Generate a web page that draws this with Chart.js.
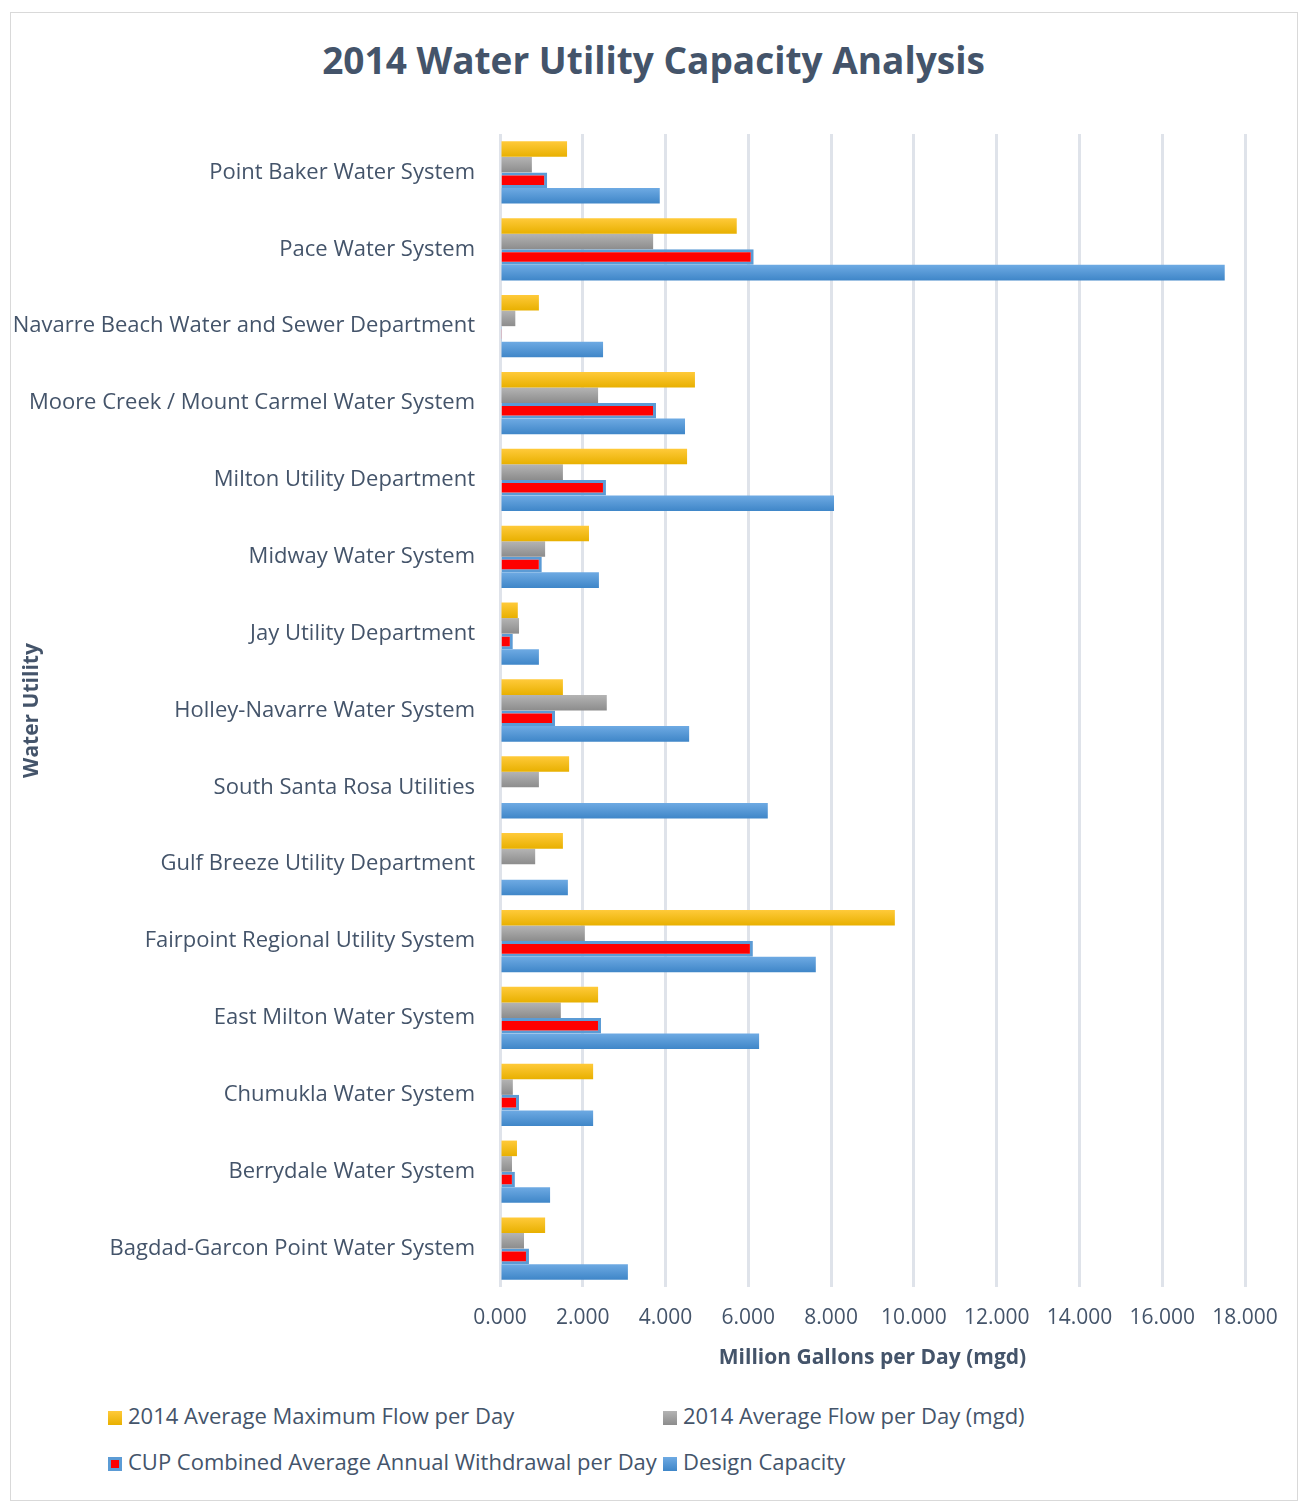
<!DOCTYPE html>
<html>
<head>
<meta charset="utf-8">
<script src="https://cdn.jsdelivr.net/npm/chart.js@4.4.0/dist/chart.umd.min.js"></script>
<style>
  body { margin: 0; background: #fff; }
  #wrap { position: relative; width: 1307px; height: 1508px; font-family: "Open Sans", sans-serif; }
  #frame { position: absolute; left: 10px; top: 12px; width: 1286px; height: 1487px; border: 1px solid #d9d9d9; }
  #title { position: absolute; left: 0; top: 38px; width: 1307px; text-align: center; font-size: 37px; font-weight: bold; color: #44546a; line-height: 44px; }
  #chart-box { position: absolute; left: 0; top: 0; width: 1307px; height: 1390px; }
  #legend { position: absolute; left: 0; top: 1398px; width: 1307px; }
  .item { position: absolute; font-size: 22px; color: #44546a; white-space: nowrap; line-height: 26px; }
  .box { display: inline-block; width: 14px; height: 14px; margin-right: 6px; vertical-align: -1px; box-sizing: border-box; }
</style>
</head>
<body>
<div id="wrap">
  <div id="frame"></div>
  <div id="title">2014 Water Utility Capacity Analysis</div>
  <div id="chart-box"><canvas id="water-chart"></canvas></div>
  <div id="legend"></div>
</div>
<script>
const utilities = [
  "Point Baker Water System",
  "Pace Water System",
  "Navarre Beach Water and Sewer Department",
  "Moore Creek / Mount Carmel Water System",
  "Milton Utility Department",
  "Midway Water System",
  "Jay Utility Department",
  "Holley-Navarre Water System",
  "South Santa Rosa Utilities",
  "Gulf Breeze Utility Department",
  "Fairpoint Regional Utility System",
  "East Milton Water System",
  "Chumukla Water System",
  "Berrydale Water System",
  "Bagdad-Garcon Point Water System",
];

const maxFlow = [1.62, 5.72, 0.94, 4.71, 4.52, 2.15, 0.43, 1.52, 1.67, 1.52, 9.54, 2.37, 2.25, 0.41, 1.09];
const avgFlow = [0.77, 3.70, 0.37, 2.37, 1.52, 1.09, 0.46, 2.58, 0.94, 0.85, 2.05, 1.47, 0.31, 0.29, 0.58];
const cupWithdrawal = [1.14, 6.13, 0.05, 3.77, 2.56, 1.01, 0.31, 1.33, 0, 0, 6.11, 2.44, 0.46, 0.36, 0.70];
const designCapacity = [3.86, 17.51, 2.49, 4.47, 8.07, 2.39, 0.94, 4.57, 6.47, 1.64, 7.63, 6.26, 2.25, 1.21, 3.09];

const textColor = "#44546a";
const fontFamily = "'Open Sans', sans-serif";

// vertical gradients per bar, like the Excel fill
const gradients = {
  0: ["#ffca3a", "#e8b000"],
  1: ["#b4b4b4", "#8c8c8c"],
  3: ["#6eaae3", "#3f86c8"],
};
const barGradient = {
  id: "barGradient",
  beforeDatasetsDraw(chart) {
    const ctx = chart.ctx;
    chart.data.datasets.forEach((ds, i) => {
      const stops = gradients[i];
      if (!stops) return;
      chart.getDatasetMeta(i).data.forEach((bar) => {
        const top = bar.y - bar.height / 2;
        const g = ctx.createLinearGradient(0, top, 0, top + bar.height);
        g.addColorStop(0, stops[0]);
        g.addColorStop(1, stops[1]);
        bar.options.backgroundColor = g;
      });
    });
  },
};

// scriptable colours keep per-bar option objects (no sharing)
const solid = (c) => () => c;

const waterChart = new Chart(document.getElementById("water-chart"), {
  type: "bar",
  data: {
    labels: utilities,
    datasets: [
      { label: "2014 Average Maximum Flow per Day", data: maxFlow, backgroundColor: solid("#ffc000") },
      { label: "2014 Average Flow per Day (mgd)", data: avgFlow, backgroundColor: solid("#a5a5a5") },
      {
        label: "CUP Combined Average Annual Withdrawal per Day",
        data: cupWithdrawal,
        backgroundColor: "#ff0000",
        borderColor: "#5b9bd5",
        borderWidth: 3,
      },
      { label: "Design Capacity", data: designCapacity, backgroundColor: solid("#5b9bd5") },
    ],
  },
  options: {
    indexAxis: "y",
    responsive: true,
    maintainAspectRatio: false,
    animation: false,
    datasets: {
      bar: { barPercentage: 1, categoryPercentage: 0.81 },
    },
    layout: { padding: { left: 12, right: 62, top: 134, bottom: 0 } },
    scales: {
      x: {
        min: 0,
        max: 18,
        ticks: {
          stepSize: 2,
          padding: 18,
          color: textColor,
          font: { family: fontFamily, size: 21 },
          callback: (v) => v.toFixed(3),
        },
        grid: { color: "#dfe3ea", lineWidth: 3, drawTicks: false },
        border: { display: false },
        title: {
          display: true,
          text: "Million Gallons per Day (mgd)",
          color: textColor,
          font: { family: fontFamily, size: 21, weight: "bold" },
          padding: { top: 10, bottom: 19 },
        },
        afterFit(scale) { scale.height = 103; },
      },
      y: {
        ticks: {
          padding: 17,
          color: textColor,
          font: { family: fontFamily, size: 22 },
        },
        grid: { display: false },
        border: { display: false },
        title: {
          display: true,
          text: "Water Utility",
          color: textColor,
          font: { family: fontFamily, size: 21, weight: "bold" },
          padding: { top: 7, bottom: 0 },
        },
        afterFit(scale) { scale.width = 488; },
      },
    },
    plugins: {
      legend: { display: false },
      tooltip: { enabled: false },
      title: { display: false },
    },
  },
  plugins: [barGradient],
});

// legend laid out in two columns like the original
const legendPos = [[108, 4], [663, 4], [108, 50], [663, 50]];
const legendBoxes = [
  "background: linear-gradient(#ffca3a, #e8b000);",
  "background: linear-gradient(#b4b4b4, #8c8c8c);",
  "background: #ff0000; border: 3px solid #5b9bd5;",
  "background: linear-gradient(#6eaae3, #3f86c8);",
];
const legendEl = document.getElementById("legend");
waterChart.data.datasets.forEach((ds, i) => {
  const item = document.createElement("div");
  item.className = "item";
  item.style.left = legendPos[i][0] + "px";
  item.style.top = legendPos[i][1] + "px";
  item.innerHTML = '<span class="box" style="' + legendBoxes[i] + '"></span>' + ds.label;
  legendEl.appendChild(item);
});
</script>
</body>
</html>
